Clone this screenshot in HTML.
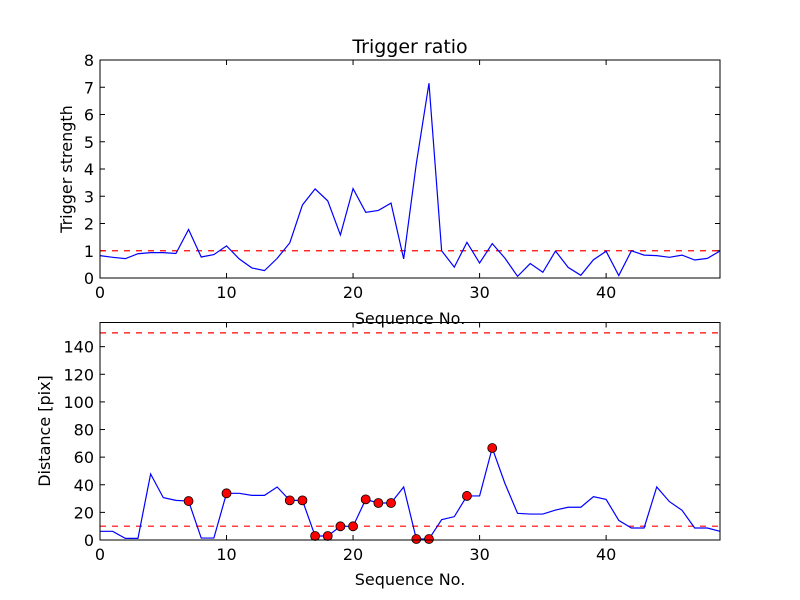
<!DOCTYPE html>
<html><head><meta charset="utf-8"><style>
body{margin:0;background:#fff;}
svg{display:block;font-family:"DejaVu Sans","Liberation Sans",sans-serif;}
</style></head><body>
<svg id="chart" width="800" height="600">
<rect width="800" height="600" fill="#fff"/>
<text x="410" y="53" font-size="19" text-anchor="middle">Trigger ratio</text>
<text x="410" y="324" font-size="16" text-anchor="middle">Sequence No.</text>
<text x="410" y="585" font-size="16" text-anchor="middle">Sequence No.</text>
<text transform="translate(72,169) rotate(-90)" font-size="16" text-anchor="middle">Trigger strength</text>
<text transform="translate(50,431) rotate(-90)" font-size="16" text-anchor="middle">Distance [pix]</text>
</svg>
<script>
const ratio=[0.82,0.76,0.71,0.89,0.93,0.93,0.9,1.78,0.77,0.86,1.18,0.7,0.37,0.27,0.72,1.29,2.68,3.27,2.83,1.58,3.28,2.41,2.48,2.75,0.7,4.2,7.15,1.0,0.4,1.31,0.55,1.26,0.73,0.06,0.53,0.21,0.99,0.39,0.1,0.67,0.98,0.09,1.0,0.84,0.82,0.76,0.84,0.66,0.72,0.99];
const distance=[6.3,6.3,1.2,1.2,47.8,30.7,28.7,28.2,1.4,1.4,33.8,33.8,32.3,32.3,38.4,28.7,28.7,2.9,2.9,9.9,9.9,29.4,26.8,26.8,38.4,0.7,0.7,14.7,16.9,31.9,31.9,66.6,41,19.3,18.8,18.8,21.7,23.7,23.7,31.4,29.4,14.2,8.7,8.7,38.4,27.8,21.5,8.7,8.7,6.3];
const ratioThreshold=[1];
const distThresholds=[10,150];
const xTicks=[0,10,20,30,40];
const ratioTicks=[0,1,2,3,4,5,6,7,8];
const distTicks=[0,20,40,60,80,100,120,140];

const svg=document.getElementById('chart');
const NS='http://www.w3.org/2000/svg';
function mk(tag,attrs,name){const e=document.createElementNS(NS,tag);for(const k in attrs)e.setAttribute(k,attrs[k]);


svg.appendChild(e);return e;}
const X0=100,X1=720,XMAX=49;
const sx=v=>X0+(X1-X0)*v/XMAX;

function panel(top,bot,ymax,ticks,data,thr,prefix,markers){
  const sy=v=>bot-(bot-top)*v/ymax;
  ticks.forEach(t=>{const y=sy(t);
    mk('line',{x1:X0,x2:X0+5,y1:y,y2:y,stroke:'#000'},prefix+'-y-tick');
    mk('line',{x1:X1,x2:X1-5,y1:y,y2:y,stroke:'#000'},prefix+'-y-tick');
    const tx=mk('text',{x:X0-6,y:y+6,'font-size':16,'text-anchor':'end'},prefix+'-y-tick-label');tx.textContent=t;});
  xTicks.forEach(t=>{const x=sx(t);
    mk('line',{x1:x,x2:x,y1:bot,y2:bot-5,stroke:'#000'},prefix+'-x-tick');
    mk('line',{x1:x,x2:x,y1:top,y2:top+5,stroke:'#000'},prefix+'-x-tick');
    const tx=mk('text',{x:x,y:bot+20,'font-size':16,'text-anchor':'middle'},prefix+'-x-tick-label');tx.textContent=t;});
  thr.forEach(t=>mk('line',{x1:X0,x2:X1,y1:sy(t),y2:sy(t),stroke:'#f00','stroke-width':1.2,'stroke-dasharray':'6,6'},prefix+'-threshold-line'));
  mk('polyline',{points:data.map((v,i)=>sx(i)+','+sy(v)).join(' '),fill:'none',stroke:'#00f','stroke-width':1.2},prefix+'-series-line');
  if(markers){data.forEach((v,i)=>{if(markers[i]>1)mk('circle',{cx:sx(i),cy:sy(v),r:4.5,fill:'#f00',stroke:'#000','stroke-width':0.8},prefix+'-marker');});}
  mk('rect',{x:X0,y:top,width:X1-X0,height:bot-top,fill:'none',stroke:'#000','stroke-width':1},prefix+'-axes-frame');
}
panel(60,278,8,ratioTicks,ratio,ratioThreshold,'top',null);
panel(322.5,540,157.5,distTicks,distance,distThresholds,'bottom',ratio);
</script>
</body></html>
